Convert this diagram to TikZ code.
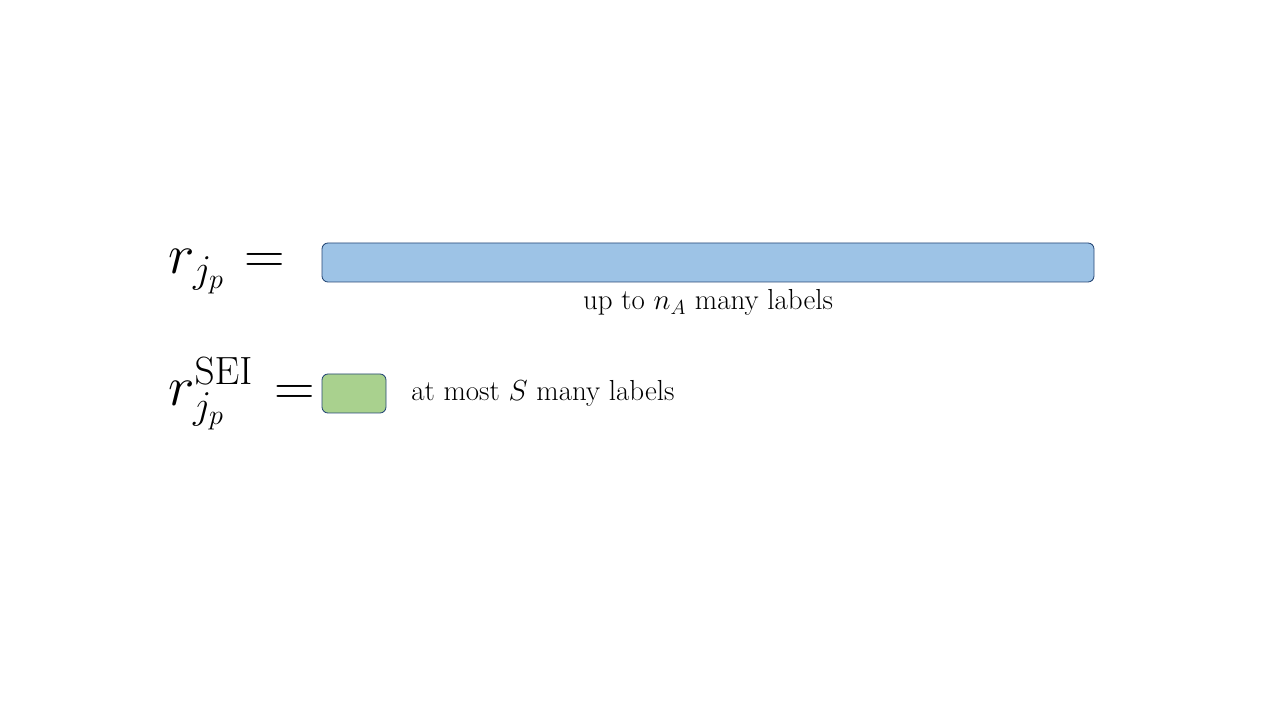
\RequirePackage{fix-cm}
\documentclass[tikz,border=0pt]{standalone}
\usepackage{amsmath}
\usepackage{tikz}
\usetikzlibrary{positioning}
\definecolor{barblue}{RGB}{157,195,230}
\definecolor{bargreen}{RGB}{169,209,142}
\definecolor{edgeblue}{RGB}{38,72,118}
\newcommand{\bigmath}{\fontsize{40}{46}\selectfont}
\newcommand{\notetext}{\fontsize{20.6}{25}\selectfont}

\begin{document}
\begin{tikzpicture}[
		bar/.style={draw=edgeblue,line width=0.6pt,rounded corners=0.15cm},
		eqn/.style={inner sep=0pt,anchor=base west,font=\bigmath},
		note/.style={inner sep=0pt,font=\notetext}]
		\useasboundingbox (0,0) rectangle (32,18);
		% first row: all labels
		\node[eqn] (rjp) at (4.2,11.15) {$r_{j_p}$};
		\node[eqn] (eqA) at (6.1,11.15) {$=$};
		\draw[bar,fill=barblue] (8.05,10.95) rectangle (27.35,11.925);
		\node[note,anchor=base] (upto) at (17.7,10.25) {up to $n_A$ many labels};
		% second row: SEI labels
		\node[eqn] (rsei) at (4.2,7.875) {$r^{\mathrm{SEI}}_{j_p}\mkern2mu =$};
		\draw[bar,fill=bargreen] (8.05,7.675) rectangle (9.65,8.65);
		\node[note,anchor=base west] (atmost) at (10.275,8.0) {at most $S$ many labels};
	\end{tikzpicture}
\end{document}
